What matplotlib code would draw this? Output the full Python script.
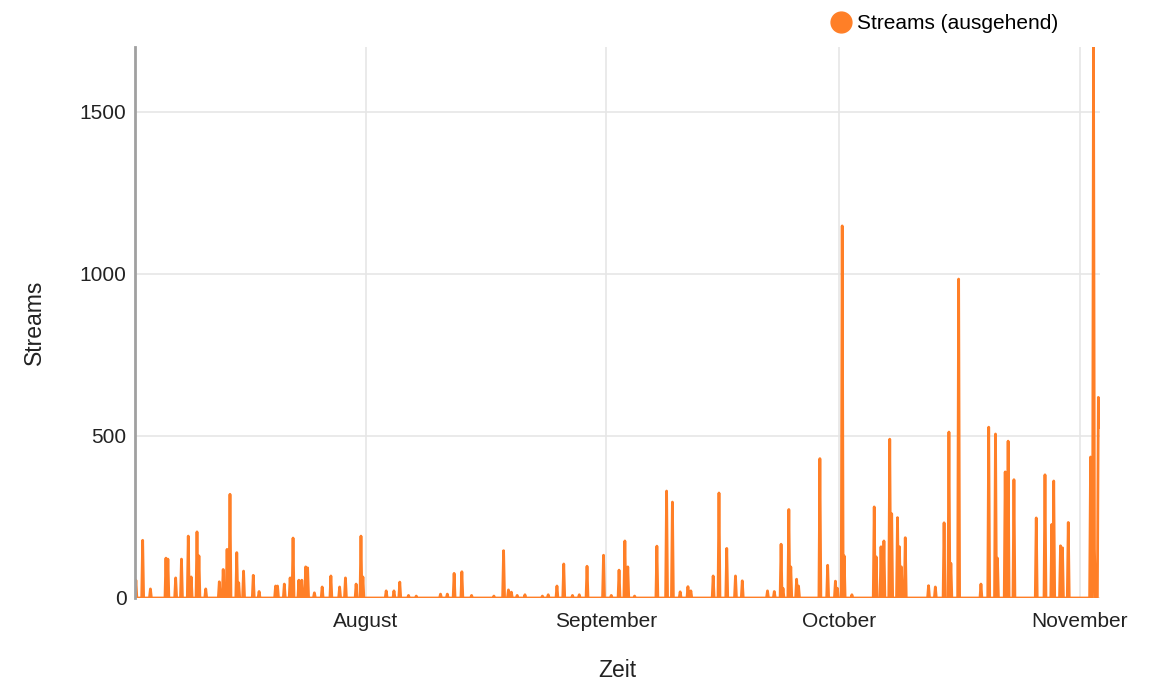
import matplotlib.pyplot as plt
import pandas as pd

plt.rcParams['font.family'] = ['Liberation Sans', 'DejaVu Sans']

# spike times (peaks) and their stream counts
spike_times = [
    '07-02 10', '07-03 06', '07-04 06', '07-06 07', '07-06 13', '07-07 13', '07-08 07',
    '07-09 04', '07-09 12', '07-10 06', '07-10 13', '07-11 08', '07-13 04', '07-13 15',
    '07-14 03', '07-14 11', '07-15 08', '07-15 14', '07-16 07', '07-17 12', '07-18 07',
    '07-20 09', '07-20 16', '07-21 11', '07-22 06', '07-22 16', '07-23 09', '07-23 17',
    '07-24 06', '07-24 13', '07-25 10', '07-26 10', '07-27 13', '07-28 15', '07-29 10',
    '07-30 17', '07-31 09', '07-31 16',
    '08-03 14', '08-04 16', '08-05 09', '08-06 11', '08-07 11', '08-10 14', '08-11 13',
    '08-12 10', '08-13 10', '08-14 14', '08-17 13', '08-18 18', '08-19 09', '08-19 18',
    '08-20 12', '08-21 11', '08-23 18', '08-24 13', '08-25 16', '08-26 13', '08-27 14',
    '08-28 13', '08-29 13', '08-31 14',
    '09-01 15', '09-02 14', '09-03 10', '09-03 19', '09-04 14', '09-07 13', '09-08 19',
    '09-09 13', '09-10 12', '09-11 13', '09-11 20', '09-14 19', '09-15 11', '09-16 11',
    '09-17 14', '09-18 11', '09-21 18', '09-22 16', '09-23 11', '09-23 19', '09-24 12',
    '09-24 17', '09-25 12', '09-25 19', '09-28 11', '09-29 13', '09-30 12', '09-30 18',
    '10-01 08', '10-01 14', '10-02 15', '10-05 12', '10-05 19', '10-06 09', '10-06 18',
    '10-07 13', '10-07 18', '10-08 11', '10-08 17', '10-08 23', '10-09 12', '10-12 11',
    '10-13 09', '10-14 13', '10-15 02', '10-15 10', '10-16 09', '10-19 05', '10-20 05',
    '10-21 03', '10-21 10', '10-22 09', '10-22 17', '10-23 11', '10-26 10', '10-27 12',
    '10-28 08', '10-28 15', '10-29 11', '10-29 17', '10-30 11',
    '11-02 09', '11-02 17', '11-02 22', '11-03 08', '11-03 13',
]
spike_values = [
    55, 178, 28, 123, 120, 62, 120,
    191, 65, 204, 130, 28, 50, 88,
    150, 320, 140, 47, 83, 70, 20,
    37, 37, 43, 62, 185, 55, 55,
    96, 93, 16, 34, 68, 34, 62,
    43, 191, 65,
    22, 22, 49, 8, 6, 12, 12,
    76, 81, 8, 6, 146, 25, 18,
    8, 10, 6, 10, 37, 105, 8,
    10, 98, 132,
    8, 86, 176, 96, 6, 160, 330,
    296, 19, 35, 22, 68, 324, 153,
    68, 53, 22, 20, 166, 30, 273,
    96, 58, 37, 430, 101, 52, 30,
    1148, 130, 10, 281, 127, 158, 176,
    490, 260, 248, 158, 96, 186, 38,
    34, 232, 512, 107, 984, 43, 527,
    506, 123, 389, 484, 365, 247, 380,
    227, 361, 161, 155, 233,
    435, 1700, 150, 619, 527,
]

start = pd.Timestamp('2023-07-02 06:00')
end = pd.Timestamp('2023-11-03 14:00')

stamps = pd.to_datetime(['2023-' + t for t in spike_times], format='%Y-%m-%d %H')
series = pd.Series(0.0, index=pd.date_range(start, end, freq='3h'))
spikes = pd.Series(spike_values, index=stamps.round('3h')).groupby(level=0).max()
series.loc[spikes.index] = spikes.values

orange = '#ff7f27'
text_col = '#222222'

fig = plt.figure(figsize=(11.53, 6.8), dpi=100)
ax = fig.add_axes([0.117, 0.1206, 0.837, 0.8103])

ax.plot(series.index, series.values, color=orange, lw=2.0, solid_joinstyle='round')

ax.set_xlim(start, end)
ax.set_ylim(0, 1700)

months = pd.to_datetime(['2023-08-01', '2023-09-01', '2023-10-01', '2023-11-01'])
ax.set_xticks(months)
ax.set_xticklabels(['August', 'September', 'October', 'November'])
ax.set_yticks([0, 500, 1000, 1500])
ax.tick_params(length=0, labelsize=15, colors=text_col, pad=6)
ax.tick_params(axis='x', pad=10)

ax.grid(True, color='#e6e6e6', lw=1.2)
ax.set_axisbelow(True)
for side in ['top', 'right', 'bottom']:
    ax.spines[side].set_visible(False)
ax.spines['left'].set_color('#a0a0a0')
ax.spines['left'].set_linewidth(2)

ax.set_xlabel('Zeit', fontsize=16.5, color=text_col, labelpad=20)
ax.set_ylabel('Streams', fontsize=16.5, color=text_col, labelpad=24)

ax.legend([plt.Line2D([], [], marker='o', ls='', color=orange, markersize=15)],
          ['Streams (ausgehend)'], loc='lower right', bbox_to_anchor=(0.971, 1.0),
          frameon=False, fontsize=15, handletextpad=-0.2, borderaxespad=0.25)

fig.savefig('out.png', dpi=100)
